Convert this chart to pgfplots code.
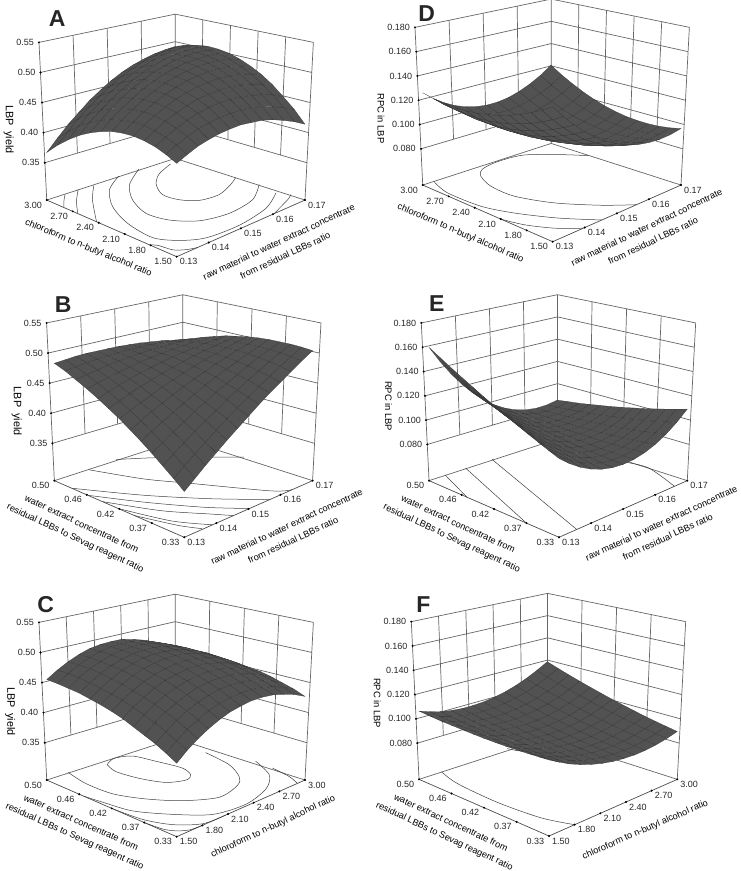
\documentclass[border=0pt]{standalone}
\usepackage{fontspec}
\setmainfont{Liberation Sans}
\usepackage{pgfplots}
\pgfplotsset{compat=1.18}
\definecolor{wallc}{gray}{0.4}
\pgfplotsset{
  rsm/.style={
    x={(10.69pt,4.72pt)}, y={(-10.83pt,4.72pt)},
    xmin=0, xmax=12, ymin=0, ymax=12,
    clip=false, axis line style={draw=none}, major tick length=0pt,
    xtick={0,3,6,9,12}, ytick={0,3,6,9,12},
    tick pos=left,
    tick label style={font=\fontsize{9}{10}\selectfont, inner sep=0pt, text=black!85},
    xticklabel style={anchor=west, xshift=3pt, yshift=-5pt},
    yticklabel style={anchor=east, xshift=-4.7pt, yshift=-5pt},
    zticklabel style={anchor=east, xshift=-5pt},
    every axis x label/.style={anchor=center, align=center, font=\fontsize{9.2}{15}\selectfont},
    every axis y label/.style={anchor=center, align=center, font=\fontsize{9.2}{15}\selectfont},
    every axis z label/.style={rotate=-90, anchor=center},
    colormap={rsmgray}{rgb255(0cm)=(82,82,82); rgb255(1cm)=(82,82,82)},
  },
  rsmA/.style={rsm, z={(0pt,601.9pt)}, zmin=0.288, zmax=0.55,
    ztick={0.35,0.40,0.45,0.50,0.55},
    zticklabels={0.35\kern1.8pt,0.40\kern3.3pt,0.45\kern4.8pt,0.50\kern6.2pt,0.55\kern7.7pt},
    every axis z label/.append style={font=\fontsize{10.8}{12}\selectfont}},
  rsmD/.style={rsm, z={(0pt,1215pt)}, zmin=0.0502, zmax=0.18,
    ztick={0.08,0.10,0.12,0.14,0.16,0.18},
    zticklabels={0.080\kern1.8pt,0.100\kern3pt,0.120\kern4.2pt,0.140\kern5.3pt,0.160\kern6.5pt,0.180\kern7.7pt},
    every axis z label/.append style={font=\fontsize{9.4}{11}\selectfont}},
  sixx/.style={xtick={0,2.4,4.8,7.2,9.6,12}, xticklabels={1.50,1.80,2.10,2.40,2.70,3.00}},
  sixy/.style={ytick={0,2.4,4.8,7.2,9.6,12}, yticklabels={1.50,1.80,2.10,2.40,2.70,3.00}},
  rawx/.style={xticklabels={0.13,0.14,0.15,0.16,0.17}},
  waty/.style={yticklabels={0.33,0.37,0.42,0.46,0.50}},
  xl/.style n args={3}{every axis x label/.append style={at={(rel axis cs:#1,#2,0)}, rotate=#3}},
  yl/.style n args={3}{every axis y label/.append style={at={(rel axis cs:#1,#2,0)}, rotate=#3}},
  zl/.style n args={2}{every axis z label/.append style={at={(rel axis cs:#1,1,#2)}}},
  wall/.style={wallc, line width=0.7pt, unbounded coords=jump},
  cont/.style={black!75, line width=0.5pt, smooth},
  edge/.style={black!70, line width=0.7pt},
  dots/.style={only marks, mark=*, mark size=0.8pt, black},
  srf/.style={surf, shader=faceted, faceted color=black!80, line width=0.2pt, z buffer=sort, mesh/rows=13, mesh/ordering=x varies},
}
\newcommand{\wallsA}{%
\addplot3[wall] coordinates {
(0,12,0.288) (10.41,10.41,0.288) (12,0,0.288) (nan,nan,nan)
(0,12,0.288) (-0.36,12.36,0.55) (10.41,10.41,0.5277) (12.39,-0.39,0.55) (12,0,0.288) (nan,nan,nan)
(10.41,10.41,0.288) (10.41,10.41,0.5277) (nan,nan,nan)
(-0.09,12.09,0.35) (10.41,10.41,0.3448) (12.09,-0.09,0.35) (nan,nan,nan)
(-0.15,12.15,0.40) (10.41,10.41,0.3905) (12.17,-0.17,0.40) (nan,nan,nan)
(-0.22,12.22,0.45) (10.41,10.41,0.4362) (12.24,-0.24,0.45) (nan,nan,nan)
(-0.29,12.29,0.50) (10.41,10.41,0.482) (12.32,-0.32,0.50)
};
}
\newcommand{\wallsD}{%
\addplot3[wall] coordinates {
(0,12,0.0502) (10.41,10.41,0.0502) (12,0,0.0502) (nan,nan,nan)
(0,12,0.0502) (-0.36,12.36,0.18) (10.41,10.41,0.169) (12.39,-0.39,0.18) (12,0,0.0502) (nan,nan,nan)
(10.41,10.41,0.0502) (10.41,10.41,0.169) (nan,nan,nan)
(-0.08,12.08,0.08) (10.41,10.41,0.0775) (12.09,-0.09,0.08) (nan,nan,nan)
(-0.14,12.14,0.10) (10.41,10.41,0.0958) (12.15,-0.15,0.10) (nan,nan,nan)
(-0.19,12.19,0.12) (10.41,10.41,0.1141) (12.21,-0.21,0.12) (nan,nan,nan)
(-0.25,12.25,0.14) (10.41,10.41,0.1324) (12.27,-0.27,0.14) (nan,nan,nan)
(-0.30,12.30,0.16) (10.41,10.41,0.1507) (12.33,-0.33,0.16)
};
}
\newcommand{\vLthreeA}{\addplot3[wall] coordinates {(2.535,11.67,0.3487) (2.33,11.87,0.5444) (nan,nan,nan) (5.16,11.25,0.3474) (5.03,11.39,0.5389) (nan,nan,nan) (7.785,10.83,0.3461) (7.72,10.9,0.5333)};}
\newcommand{\vRthreeA}{\addplot3[wall] coordinates {(11.67,2.535,0.3487) (11.895,2.31,0.5444) (nan,nan,nan) (11.25,5.16,0.3474) (11.4,5.0,0.5389) (nan,nan,nan) (10.83,7.785,0.3461) (10.9,7.71,0.5333)};}
\newcommand{\vLfourA}{\addplot3[wall] coordinates {(2.01,11.75,0.349) (1.79,11.97,0.5455) (nan,nan,nan) (4.11,11.42,0.3479) (3.95,11.58,0.5411) (nan,nan,nan) (6.21,11.08,0.3469) (6.1,11.19,0.5366) (nan,nan,nan) (8.31,10.75,0.3458) (8.26,10.8,0.5322)};}
\newcommand{\vRfourA}{\addplot3[wall] coordinates {(11.75,2.01,0.349) (11.99,1.77,0.5455) (nan,nan,nan) (11.42,4.11,0.3479) (11.6,3.93,0.5411) (nan,nan,nan) (11.08,6.21,0.3469) (11.2,6.09,0.5366) (nan,nan,nan) (10.75,8.31,0.3458) (10.8,8.25,0.5322)};}
\newcommand{\vLthreeD}{\addplot3[wall] coordinates {(2.54,11.66,0.0794) (2.33,11.87,0.1773) (nan,nan,nan) (5.17,11.25,0.0788) (5.03,11.39,0.1745) (nan,nan,nan) (7.79,10.83,0.0781) (7.72,10.9,0.1718)};}
\newcommand{\vRthreeD}{\addplot3[wall] coordinates {(11.67,2.54,0.0794) (11.9,2.31,0.1773) (nan,nan,nan) (11.25,5.16,0.0788) (11.4,5.01,0.1745) (nan,nan,nan) (10.83,7.78,0.0781) (10.9,7.71,0.1718)};}
\newcommand{\vLfourD}{\addplot3[wall] coordinates {(2.02,11.75,0.0795) (1.79,11.97,0.1778) (nan,nan,nan) (4.12,11.41,0.079) (3.95,11.58,0.1756) (nan,nan,nan) (6.21,11.08,0.0785) (6.1,11.19,0.1734) (nan,nan,nan) (8.31,10.74,0.078) (8.26,10.8,0.1712)};}
\newcommand{\vRfourD}{\addplot3[wall] coordinates {(11.75,2.02,0.0795) (11.99,1.77,0.1778) (nan,nan,nan) (11.42,4.12,0.079) (11.6,3.93,0.1756) (nan,nan,nan) (11.08,6.21,0.0785) (11.2,6.09,0.1734) (nan,nan,nan) (10.75,8.31,0.078) (10.8,8.25,0.1712)};}
\newcommand{\frontedge}[1]{\addplot3[edge] coordinates {(0,12,#1) (0,0,#1) (12,0,#1)};}
\newcommand{\zdotsA}{\addplot3[dots] coordinates {(-0.09,12.09,0.35) (-0.15,12.15,0.40) (-0.22,12.22,0.45) (-0.29,12.29,0.50) (-0.36,12.36,0.55)};}
\newcommand{\zdotsD}{\addplot3[dots] coordinates {(-0.08,12.08,0.08) (-0.14,12.14,0.10) (-0.19,12.19,0.12) (-0.25,12.25,0.14) (-0.30,12.30,0.16) (-0.36,12.36,0.18)};}
\newcommand{\xfive}[1]{\addplot3[dots] coordinates {(0,0,#1) (3,0,#1) (6,0,#1) (9,0,#1) (12,0,#1)};}
\newcommand{\xsix}[1]{\addplot3[dots] coordinates {(0,0,#1) (2.4,0,#1) (4.8,0,#1) (7.2,0,#1) (9.6,0,#1) (12,0,#1)};}
\newcommand{\yfive}[1]{\addplot3[dots] coordinates {(0,3,#1) (0,6,#1) (0,9,#1) (0,12,#1)};}
\newcommand{\ysix}[1]{\addplot3[dots] coordinates {(0,2.4,#1) (0,4.8,#1) (0,7.2,#1) (0,9.6,#1) (0,12,#1)};}
\begin{document}
\begin{tikzpicture}
\useasboundingbox (0pt,0pt) rectangle (740pt,871pt);
% A
\begin{axis}[rsmA, rawx, sixy, at={(176.7pt,614.3pt)}, anchor=origin,
  xl={0.479}{-0.338}{25}, yl={-0.267}{0.416}{-22.5}, zl={-0.296}{0.554},
  xlabel={raw material to water extract concentrate\\from residual LBBs ratio},
  ylabel={chloroform to n-butyl alcohol ratio},
  zlabel={LBP~~yield}]
\wallsA \vLthreeA \vRfourA \frontedge{0.288}
\addplot3[cont] coordinates {(9.58,10.04,0.288) (7.96,9.5,0.288) (6.75,8.55,0.288) (5.96,7.19,0.288) (6.19,5.88,0.288) (7.05,4.88,0.288) (8.59,4.56,0.288) (10.21,5.09,0.288) (11.16,5.58,0.288)};
\addplot3[cont] coordinates {(7.57,10.97,0.288) (5.51,9.79,0.288) (4.02,8.05,0.288) (3.2,6,0.288) (3.57,4.19,0.288) (4.9,2.72,0.288) (7.08,2.12,0.288) (9.6,2.47,0.288) (11.53,3.77,0.288)};
\addplot3[cont] coordinates {(5.92,11.18,0.288) (4.04,10.19,0.288) (2.37,8.26,0.288) (1.27,5.77,0.288) (0.92,3.1,0.288) (1.88,1.57,0.288) (3.41,0.61,0.288) (6.29,0.4,0.288) (9.32,0.95,0.288) (11.41,2.1,0.288)};
\addplot3[cont] coordinates {(3.74,11.34,0.288) (2.16,9.91,0.288) (0,7.4,0.288)};
\addplot3[cont] coordinates {(0,2.5,0.288) (0.34,2.04,0.288) (0.56,0.88,0.288) (1.22,0.29,0.288) (1.94,0,0.288)};
\addplot3[cont] coordinates {(9.09,0,0.288) (11.23,0.84,0.288) (11.92,1.23,0.288)};
\addplot3[cont] coordinates {(2.59,11.65,0.288) (1.24,10.48,0.288) (0,9.13,0.288)};
\addplot3[cont] coordinates {(1.43,11.72,0.288) (0.84,11.23,0.288) (0,10.43,0.288)};
\addplot3[srf] table {
0 0 .443
1 0 .450
2 0 .456
3 0 .459
4 0 .461
5 0 .461
6 0 .460
7 0 .456
8 0 .452
9 0 .445
10 0 .436
11 0 .426
12 0 .414
0 1 .450
1 1 .458
2 1 .464
3 1 .469
4 1 .471
5 1 .472
6 1 .471
7 1 .469
8 1 .465
9 1 .459
10 1 .451
11 1 .442
12 1 .431
0 2 .455
1 2 .463
2 2 .470
3 2 .475
4 2 .479
5 2 .481
6 2 .481
7 2 .479
8 2 .475
9 2 .470
10 2 .463
11 2 .455
12 2 .444
0 3 .457
1 3 .466
2 3 .474
3 3 .480
4 3 .484
5 3 .487
6 3 .487
7 3 .486
8 3 .484
9 3 .479
10 3 .473
11 3 .465
12 3 .456
0 4 .457
1 4 .467
2 4 .475
3 4 .482
4 4 .487
5 4 .490
6 4 .492
7 4 .491
8 4 .490
9 4 .486
10 4 .481
11 4 .474
12 4 .465
0 5 .454
1 5 .465
2 5 .474
3 5 .481
4 5 .487
5 5 .491
6 5 .494
7 5 .494
8 5 .493
9 5 .490
10 5 .486
11 5 .479
12 5 .471
0 6 .449
1 6 .460
2 6 .470
3 6 .479
4 6 .485
5 6 .490
6 6 .493
7 6 .494
8 6 .494
9 6 .492
10 6 .488
11 6 .483
12 6 .475
0 7 .441
1 7 .454
2 7 .464
3 7 .473
4 7 .481
5 7 .486
6 7 .490
7 7 .492
8 7 .493
9 7 .491
10 7 .488
11 7 .484
12 7 .477
0 8 .431
1 8 .444
2 8 .456
3 8 .466
4 8 .474
5 8 .480
6 8 .485
7 8 .488
8 8 .489
9 8 .488
10 8 .486
11 8 .482
12 8 .476
0 9 .419
1 9 .433
2 9 .445
3 9 .455
4 9 .464
5 9 .471
6 9 .477
7 9 .480
8 9 .483
9 9 .483
10 9 .481
11 9 .478
12 9 .473
0 10 .404
1 10 .419
2 10 .432
3 10 .443
4 10 .453
5 10 .460
6 10 .467
7 10 .471
8 10 .474
9 10 .475
10 10 .474
11 10 .472
12 10 .467
0 11 .387
1 11 .402
2 11 .416
3 11 .428
4 11 .438
5 11 .447
6 11 .454
7 11 .459
8 11 .463
9 11 .464
10 11 .464
11 11 .463
12 11 .459
0 12 .367
1 12 .383
2 12 .398
3 12 .410
4 12 .422
5 12 .431
6 12 .439
7 12 .445
8 12 .449
9 12 .451
10 12 .452
11 12 .451
12 12 .449
};
\xfive{0.288} \ysix{0.288} \zdotsA
\end{axis}
% B
\begin{axis}[rsmA, rawx, waty, at={(184.3pt,333.7pt)}, anchor=origin,
  xl={0.444}{-0.374}{25}, yl={-0.36}{0.46}{-25}, zl={-0.294}{0.546},
  xlabel={raw material to water extract concentrate\\from residual LBBs ratio},
  ylabel={water extract concentrate from\\residual LBBs to Sevag reagent ratio},
  zlabel={LBP~~yield}]
\wallsA \vLthreeA \vRthreeA \frontedge{0.288}
\addplot3[cont] coordinates {(0,10.4,0.288) (2.62,6.28,0.288) (5.36,2.81,0.288) (8,0,0.288)};
\addplot3[cont] coordinates {(0,8.9,0.288) (1.89,5.55,0.288) (4.14,2.22,0.288) (6.1,0,0.288)};
\addplot3[cont] coordinates {(0,7.56,0.288) (1.76,3.88,0.288) (3.73,1.19,0.288) (4.6,0,0.288)};
\addplot3[cont] coordinates {(0,6.1,0.288) (1.15,2.32,0.288) (2.65,0,0.288)};
\addplot3[cont] coordinates {(0,4.6,0.288) (0.98,1.55,0.288) (1.74,0.1,0.288)};
\addplot3[cont] coordinates {(2.77,11.54,0.288) (4.35,8.01,0.288) (6.05,5.37,0.288) (8.98,0.85,0.288) (10.1,0,0.288)};
\addplot3[cont] coordinates {(5.14,11.34,0.288) (7.06,9.79,0.288) (9.69,7.3,0.288) (11.32,5.68,0.288)};
\addplot3[srf] table {
0 0 .364
1 0 .378
2 0 .392
3 0 .405
4 0 .418
5 0 .430
6 0 .442
7 0 .454
8 0 .465
9 0 .475
10 0 .485
11 0 .495
12 0 .504
0 1 .378
1 1 .391
2 1 .403
3 1 .415
4 1 .427
5 1 .438
6 1 .448
7 1 .458
8 1 .468
9 1 .477
10 1 .486
11 1 .494
12 1 .502
0 2 .391
1 2 .403
2 2 .414
3 2 .425
4 2 .435
5 2 .444
6 2 .454
7 2 .462
8 2 .471
9 2 .478
10 2 .486
11 2 .493
12 2 .499
0 3 .404
1 3 .414
2 3 .424
3 3 .433
4 3 .442
5 3 .450
6 3 .458
7 3 .465
8 3 .472
9 3 .479
10 3 .485
11 3 .490
12 3 .495
0 4 .416
1 4 .425
2 4 .433
3 4 .441
4 4 .448
5 4 .455
6 4 .462
7 4 .468
8 4 .473
9 4 .478
10 4 .483
11 4 .487
12 4 .491
0 5 .427
1 5 .435
2 5 .442
3 5 .448
4 5 .454
5 5 .460
6 5 .465
7 5 .469
8 5 .474
9 5 .477
10 5 .481
11 5 .483
12 5 .486
0 6 .438
1 6 .444
2 6 .449
3 6 .454
4 6 .459
5 6 .463
6 6 .467
7 6 .470
8 6 .473
9 6 .475
10 6 .477
11 6 .479
12 6 .480
0 7 .447
1 7 .452
2 7 .456
3 7 .460
4 7 .463
5 7 .466
6 7 .468
7 7 .470
8 7 .472
9 7 .473
10 7 .473
11 7 .473
12 7 .473
0 8 .456
1 8 .459
2 8 .462
3 8 .465
4 8 .467
5 8 .468
6 8 .469
7 8 .470
8 8 .470
9 8 .469
10 8 .469
11 8 .467
12 8 .466
0 9 .464
1 9 .466
2 9 .467
3 9 .468
4 9 .469
5 9 .469
6 9 .469
7 9 .468
8 9 .467
9 9 .465
10 9 .463
11 9 .460
12 9 .457
0 10 .471
1 10 .472
2 10 .472
3 10 .472
4 10 .471
5 10 .470
6 10 .468
7 10 .466
8 10 .463
9 10 .460
10 10 .457
11 10 .452
12 10 .448
0 11 .478
1 11 .477
2 11 .476
3 11 .474
4 11 .472
5 11 .469
6 11 .466
7 11 .463
8 11 .459
9 11 .454
10 11 .449
11 11 .444
12 11 .438
0 12 .483
1 12 .481
2 12 .479
3 12 .476
4 12 .472
5 12 .468
6 12 .464
7 12 .459
8 12 .454
9 12 .448
10 12 .442
11 12 .435
12 12 .428
};
\xfive{0.288} \yfive{0.288} \zdotsA
\end{axis}
% C
\begin{axis}[rsmA, sixx, waty, at={(176.7pt,34.3pt)}, anchor=origin,
  xl={0.462}{-0.286}{25}, yl={-0.324}{0.442}{-24}, zl={-0.286}{0.538},
  xlabel={chloroform to n-butyl alcohol ratio},
  ylabel={water extract concentrate from\\residual LBBs to Sevag reagent ratio},
  zlabel={LBP~~yield}]
\wallsA \vLfourA \vRthreeA \frontedge{0.288}
\addplot3[cont] coordinates {(4.46,10.82,0.288) (5.42,11.16,0.288) (6.53,10.56,0.288) (7.07,8.93,0.288) (7.58,6.96,0.288) (7.24,5.85,0.288) (6.47,5.53,0.288) (5.28,6.22,0.288) (4.48,7.88,0.288) (4.12,9.7,0.288) (4.46,10.82,0.288)};
\addplot3[cont] coordinates {(1.81,11.79,0.288) (1.45,9.82,0.288) (1.6,7.49,0.288) (2.6,5.4,0.288) (4.13,3.5,0.288) (6.2,2.17,0.288) (8.32,2.59,0.288) (9.31,3.42,0.288) (10.12,5.16,0.288) (10.31,7.51,0.288)};
\addplot3[cont] coordinates {(0,8.6,0.288) (0.25,7,0.288) (0.71,4.75,0.288) (2.21,2.52,0.288) (4.07,0.66,0.288) (6.71,0.2,0.288) (9.28,0.9,0.288) (10.89,2.2,0.288) (11.72,4.28,0.288)};
\addplot3[cont] coordinates {(0,6,0.288) (0.27,3.37,0.288) (1.12,1.43,0.288) (2.62,0.14,0.288) (4.6,0,0.288)};
\addplot3[cont] coordinates {(0,3,0.288) (0.18,1.42,0.288) (0.62,0.62,0.288) (1.34,0.11,0.288) (2.4,0,0.288)};
\addplot3[cont] coordinates {(11.77,2.78,0.288) (11.64,1.09,0.288) (11.3,0,0.288)};
\addplot3[srf] table {
0 0 .410
1 0 .424
2 0 .435
3 0 .444
4 0 .451
5 0 .456
6 0 .458
7 0 .459
8 0 .457
9 0 .453
10 0 .446
11 0 .438
12 0 .427
0 1 .419
1 1 .432
2 1 .443
3 1 .451
4 1 .458
5 1 .462
6 1 .464
7 1 .464
8 1 .462
9 1 .457
10 1 .451
11 1 .442
12 1 .431
0 2 .427
1 2 .439
2 2 .450
3 2 .458
4 2 .464
5 2 .468
6 2 .470
7 2 .469
8 2 .466
9 2 .461
10 2 .454
11 2 .445
12 2 .433
0 3 .433
1 3 .446
2 3 .456
3 3 .463
4 3 .469
5 3 .473
6 3 .474
7 3 .473
8 3 .470
9 3 .464
10 3 .457
11 3 .447
12 3 .435
0 4 .439
1 4 .451
2 4 .461
3 4 .468
4 4 .473
5 4 .476
6 4 .477
7 4 .476
8 4 .472
9 4 .466
10 4 .458
11 4 .448
12 4 .436
0 5 .445
1 5 .456
2 5 .465
3 5 .472
4 5 .477
5 5 .479
6 5 .480
7 5 .478
8 5 .474
9 5 .467
10 5 .459
11 5 .448
12 5 .435
0 6 .449
1 6 .460
2 6 .468
3 6 .475
4 6 .479
5 6 .481
6 6 .481
7 6 .479
8 6 .474
9 6 .468
10 6 .459
11 6 .448
12 6 .434
0 7 .452
1 7 .462
2 7 .471
3 7 .477
4 7 .481
5 7 .482
6 7 .482
7 7 .479
8 7 .474
9 7 .467
10 7 .458
11 7 .446
12 7 .432
0 8 .454
1 8 .464
2 8 .472
3 8 .478
4 8 .481
5 8 .483
6 8 .482
7 8 .478
8 8 .473
9 8 .465
10 8 .456
11 8 .444
12 8 .429
0 9 .456
1 9 .465
2 9 .473
3 9 .478
4 9 .481
5 9 .482
6 9 .480
7 9 .477
8 9 .471
9 9 .463
10 9 .453
11 9 .440
12 9 .426
0 10 .456
1 10 .466
2 10 .473
3 10 .477
4 10 .480
5 10 .480
6 10 .478
7 10 .474
8 10 .468
9 10 .460
10 10 .449
11 10 .436
12 10 .421
0 11 .456
1 11 .465
2 11 .471
3 11 .476
4 11 .478
5 11 .478
6 11 .475
7 11 .471
8 11 .464
9 11 .455
10 11 .444
11 11 .431
12 11 .415
0 12 .455
1 12 .463
2 12 .469
3 12 .473
4 12 .475
5 12 .474
6 12 .471
7 12 .467
8 12 .459
9 12 .450
10 12 .439
11 12 .425
12 12 .409
};
\xsix{0.288} \yfive{0.288} \zdotsA
\end{axis}
% D
\begin{axis}[rsmD, rawx, sixy, at={(552.7pt,629.3pt)}, anchor=origin,
  xl={0.444}{-0.309}{25.5}, yl={-0.283}{0.43}{-23}, zl={-0.325}{0.54},
  xlabel={raw material to water extract concentrate\\from residual LBBs ratio},
  ylabel={chloroform to n-butyl alcohol ratio},
  zlabel={RPC in LBP}]
\wallsD \vLthreeD \vRfourD \frontedge{0.0502}
\addplot3[cont] coordinates {(10.84,7.37,0.0502) (9.79,8.64,0.0502) (7.9,10.46,0.0502) (5.94,10.99,0.0502) (4.46,10.9,0.0502) (3.67,10.27,0.0502) (3.05,8.73,0.0502) (3.07,6.58,0.0502) (4.22,4,0.0502) (6.14,1.58,0.0502) (7.84,0,0.0502)};
\addplot3[cont] coordinates {(0.89,11.83,0.0502) (0.32,10.03,0.0502) (0.45,7.05,0.0502) (1.28,4.79,0.0502) (2.77,2.24,0.0502) (4.6,0,0.0502)};
\addplot3[cont] coordinates {(0,4.77,0.0502) (0.5,3.07,0.0502) (1.54,1.32,0.0502) (2.86,0,0.0502)};
\addplot3[srf] table {
0 0 .1613
1 0 .1493
2 0 .1386
3 0 .1290
4 0 .1207
5 0 .1135
6 0 .1075
7 0 .1027
8 0 .0991
9 0 .0968
10 0 .0956
11 0 .0955
12 0 .0967
0 1 .1546
1 1 .1429
2 1 .1325
3 1 .1232
4 1 .1151
5 1 .1082
6 1 .1025
7 1 .0980
8 1 .0947
9 1 .0926
10 1 .0917
11 1 .0919
12 1 .0934
0 2 .1486
1 2 .1372
2 2 .1271
3 2 .1181
4 2 .1102
5 2 .1036
6 2 .0982
7 2 .0940
8 2 .0910
9 2 .0891
10 2 .0885
11 2 .0890
12 2 .0908
0 3 .1433
1 3 .1322
2 3 .1223
3 3 .1136
4 3 .1061
5 3 .0997
6 3 .0946
7 3 .0907
8 3 .0879
9 3 .0864
10 3 .0861
11 3 .0868
12 3 .0889
0 4 .1387
1 4 .1279
2 4 .1183
3 4 .1099
4 4 .1026
5 4 .0966
6 4 .0917
7 4 .0880
8 4 .0856
9 4 .0843
10 4 .0843
11 4 .0853
12 4 .0877
0 5 .1346
1 5 .1241
2 5 .1148
3 5 .1066
4 5 .0996
5 5 .0939
6 5 .0893
7 5 .0859
8 5 .0838
9 5 .0828
10 5 .0830
11 5 .0843
12 5 .0870
0 6 .1314
1 6 .1211
2 6 .1121
3 6 .1042
4 6 .0976
5 6 .0921
6 6 .0878
7 6 .0847
8 6 .0828
9 6 .0822
10 6 .0827
11 6 .0843
12 6 .0872
0 7 .1288
1 7 .1188
2 7 .1101
3 7 .1025
4 7 .0961
5 7 .0909
6 7 .0869
7 7 .0841
8 7 .0825
9 7 .0821
10 7 .0829
11 7 .0848
12 7 .0880
0 8 .1269
1 8 .1172
2 8 .1088
3 8 .1015
4 8 .0953
5 8 .0904
6 8 .0867
7 8 .0842
8 8 .0829
9 8 .0827
10 8 .0838
11 8 .0860
12 8 .0895
0 9 .1257
1 9 .1163
2 9 .1081
3 9 .1011
4 9 .0953
5 9 .0906
6 9 .0872
7 9 .0850
8 9 .0839
9 9 .0841
10 9 .0855
11 9 .0879
12 9 .0917
0 10 .1252
1 10 .1161
2 10 .1082
3 10 .1015
4 10 .0959
5 10 .0916
6 10 .0884
7 10 .0864
8 10 .0857
9 10 .0861
10 10 .0878
11 10 .0905
12 10 .0946
0 11 .1252
1 11 .1164
2 11 .1088
3 11 .1023
4 11 .0970
5 11 .0930
6 11 .0901
7 11 .0884
8 11 .0880
9 11 .0887
10 11 .0906
11 11 .0936
12 11 .0980
0 12 .1261
1 12 .1175
2 12 .1102
3 12 .1040
4 12 .0991
5 12 .0953
6 12 .0927
7 12 .0913
8 12 .0911
9 12 .0922
10 12 .0944
11 12 .0977
12 12 .1023
};
\xfive{0.0502} \ysix{0.0502} \zdotsD
\end{axis}
% E
\begin{axis}[rsmD, rawx, waty, at={(559pt,333.7pt)}, anchor=origin,
  xl={0.474}{-0.344}{25}, yl={-0.353}{0.453}{-25}, zl={-0.317}{0.586},
  xlabel={raw material to water extract concentrate\\from residual LBBs ratio},
  ylabel={water extract concentrate from\\residual LBBs to Sevag reagent ratio},
  zlabel={RPC in LBP}]
\wallsD \vLthreeD \vRthreeD \frontedge{0.0502}
\addplot3[cont] coordinates {(1.36,11.87,0.0502) (0,8.5,0.0502)};
\addplot3[cont] coordinates {(3.04,11.63,0.0502) (0,3,0.0502)};
\addplot3[cont] coordinates {(5.2,11.32,0.0502) (1.66,0,0.0502)};
\addplot3[cont] coordinates {(11.1,4.8,0.0502) (11.56,3.1,0.0502) (10.8,0,0.0502)};
\addplot3[srf] table {
0 0 .1151
1 0 .1069
2 0 .1001
3 0 .0947
4 0 .0907
5 0 .0881
6 0 .0869
7 0 .0871
8 0 .0887
9 0 .0917
10 0 .0961
11 0 .1019
12 0 .1091
0 1 .1181
1 1 .1093
2 1 .1019
3 1 .0960
4 1 .0914
5 1 .0882
6 1 .0864
7 1 .0860
8 1 .0870
9 1 .0894
10 1 .0933
11 1 .0985
12 1 .1051
0 2 .1213
1 2 .1119
2 2 .1040
3 2 .0974
4 2 .0922
5 2 .0885
6 2 .0861
7 2 .0851
8 2 .0856
9 2 .0874
10 2 .0906
11 2 .0953
12 2 .1013
0 3 .1246
1 3 .1147
2 3 .1061
3 3 .0990
4 3 .0932
5 3 .0889
6 3 .0859
7 3 .0843
8 3 .0842
9 3 .0854
10 3 .0881
11 3 .0921
12 3 .0976
0 4 .1280
1 4 .1175
2 4 .1083
3 4 .1006
4 4 .0943
5 4 .0893
6 4 .0858
7 4 .0837
8 4 .0829
9 4 .0836
10 4 .0857
11 4 .0891
12 4 .0940
0 5 .1316
1 5 .1205
2 5 .1108
3 5 .1025
4 5 .0955
5 5 .0900
6 5 .0859
7 5 .0832
8 5 .0819
9 5 .0819
10 5 .0834
11 5 .0863
12 5 .0906
0 6 .1352
1 6 .1235
2 6 .1132
3 6 .1043
4 6 .0968
5 6 .0907
6 6 .0860
7 6 .0827
8 6 .0808
9 6 .0803
10 6 .0812
11 6 .0835
12 6 .0872
0 7 .1390
1 7 .1267
2 7 .1158
3 7 .1064
4 7 .0983
5 7 .0916
6 7 .0863
7 7 .0824
8 7 .0799
9 7 .0788
10 7 .0792
11 7 .0809
12 7 .0840
0 8 .1430
1 8 .1301
2 8 .1187
3 8 .1086
4 8 .0999
5 8 .0927
6 8 .0868
7 8 .0823
8 8 .0793
9 8 .0776
10 8 .0773
11 8 .0785
12 8 .0810
0 9 .1470
1 9 .1336
2 9 .1215
3 9 .1109
4 9 .1016
5 9 .0938
6 9 .0873
7 9 .0822
8 9 .0786
9 9 .0763
10 9 .0755
11 9 .0760
12 9 .0780
0 10 .1511
1 10 .1371
2 10 .1244
3 10 .1132
4 10 .1034
5 10 .0949
6 10 .0879
7 10 .0823
8 10 .0780
9 10 .0752
10 10 .0738
11 10 .0737
12 10 .0751
0 11 .1555
1 11 .1409
2 11 .1277
3 11 .1159
4 11 .1054
5 11 .0964
6 11 .0888
7 11 .0826
8 11 .0778
9 11 .0743
10 11 .0723
11 11 .0717
12 11 .0725
0 12 .1599
1 12 .1447
2 12 .1309
3 12 .1185
4 12 .1075
5 12 .0979
6 12 .0897
7 12 .0829
8 12 .0775
9 12 .0735
10 12 .0709
11 12 .0697
12 12 .0699
};
\xfive{0.0502} \yfive{0.0502} \zdotsD
\end{axis}
% F
\begin{axis}[rsmD, sixx, waty, at={(549pt,35pt)}, anchor=origin,
  xl={0.427}{-0.32}{23.5}, yl={-0.339}{0.446}{-25}, zl={-0.325}{0.60},
  xlabel={chloroform to n-butyl alcohol ratio},
  ylabel={water extract concentrate from\\residual LBBs to Sevag reagent ratio},
  zlabel={RPC in LBP}]
\wallsD \vLfourD \vRthreeD \frontedge{0.0502}
\addplot3[cont] coordinates {(1.85,11.75,0.0502) (1.33,9.74,0.0502) (1.19,5.89,0.0502) (1.57,2.26,0.0502) (2.4,0,0.0502)};
\addplot3[cont] coordinates {(7.37,11.14,0.0502) (7.85,10.08,0.0502) (9.32,8.46,0.0502)};
\addplot3[srf] table {
0 0 .1128
1 0 .1070
2 0 .1017
3 0 .0973
4 0 .0936
5 0 .0906
6 0 .0883
7 0 .0868
8 0 .0858
9 0 .0857
10 0 .0863
11 0 .0876
12 0 .0896
0 1 .1116
1 1 .1059
2 1 .1008
3 1 .0965
4 1 .0928
5 1 .0900
6 1 .0878
7 1 .0864
8 1 .0856
9 1 .0855
10 1 .0862
11 1 .0877
12 1 .0898
0 2 .1105
1 2 .1049
2 2 .0999
3 2 .0957
4 2 .0922
5 2 .0895
6 2 .0874
7 2 .0861
8 2 .0854
9 2 .0855
10 2 .0863
11 2 .0879
12 2 .0901
0 3 .1095
1 3 .1040
2 3 .0991
3 3 .0951
4 3 .0917
5 3 .0891
6 3 .0871
7 3 .0859
8 3 .0853
9 3 .0855
10 3 .0865
11 3 .0882
12 3 .0905
0 4 .1086
1 4 .1033
2 4 .0985
3 4 .0946
4 4 .0913
5 4 .0889
6 4 .0870
7 4 .0859
8 4 .0855
9 4 .0858
10 4 .0869
11 4 .0887
12 4 .0912
0 5 .1079
1 5 .1027
2 5 .0980
3 5 .0942
4 5 .0911
5 5 .0887
6 5 .0870
7 5 .0861
8 5 .0857
9 5 .0862
10 5 .0874
11 5 .0893
12 5 .0919
0 6 .1073
1 6 .1022
2 6 .0977
3 6 .0940
4 6 .0909
5 6 .0887
6 6 .0871
7 6 .0863
8 6 .0861
9 6 .0866
10 6 .0879
11 6 .0900
12 6 .0927
0 7 .1069
1 7 .1019
2 7 .0975
3 7 .0939
4 7 .0910
5 7 .0889
6 7 .0874
7 7 .0867
8 7 .0866
9 7 .0873
10 7 .0887
11 7 .0909
12 7 .0937
0 8 .1066
1 8 .1017
2 8 .0974
3 8 .0940
4 8 .0912
5 8 .0892
6 8 .0878
7 8 .0872
8 8 .0872
9 8 .0880
10 8 .0896
11 8 .0919
12 8 .0948
0 9 .1064
1 9 .1016
2 9 .0975
3 9 .0941
4 9 .0914
5 9 .0896
6 9 .0883
7 9 .0878
8 9 .0880
9 9 .0889
10 9 .0905
11 9 .0930
12 9 .0960
0 10 .1061
1 10 .1015
2 10 .0974
3 10 .0942
4 10 .0917
5 10 .0899
6 10 .0888
7 10 .0885
8 10 .0887
9 10 .0898
10 10 .0916
11 10 .0941
12 10 .0973
0 11 .1062
1 11 .1017
2 11 .0978
3 11 .0947
4 11 .0922
5 11 .0906
6 11 .0896
7 11 .0894
8 11 .0898
9 11 .0909
10 11 .0928
11 11 .0955
12 11 .0988
0 12 .1064
1 12 .1020
2 12 .0982
3 12 .0952
4 12 .0929
5 12 .0914
6 12 .0905
7 12 .0904
8 12 .0909
9 12 .0922
10 12 .0942
11 12 .0970
12 12 .1004
};
\xsix{0.0502} \yfive{0.0502} \zdotsD
\end{axis}
\foreach \l/\px/\py in {A/57.3/852.7,B/63.3/566,C/45.7/266,D/426.7/857,E/436.7/567,F/423.3/266}
  \node[font=\fontsize{23}{25}\selectfont\bfseries, text=black!85] at (\px pt,\py pt) {\l};
\end{tikzpicture}
\end{document}
